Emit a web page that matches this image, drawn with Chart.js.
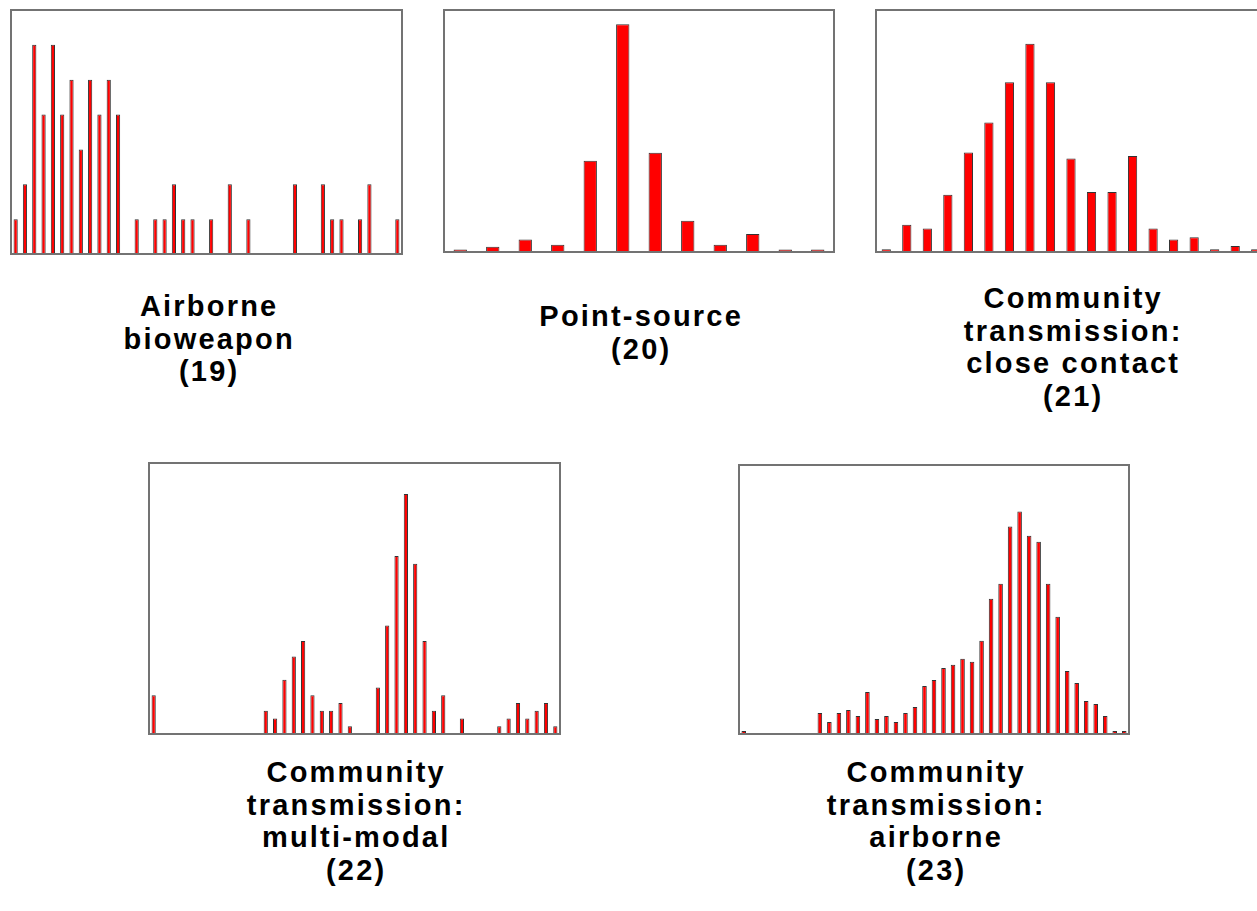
<!DOCTYPE html>
<html>
<head>
<meta charset="utf-8">
<script src="https://cdn.jsdelivr.net/npm/chart.js@4/dist/chart.umd.min.js"></script>
<style>
  html, body { margin: 0; padding: 0; background: #fff; }
  body { width: 1257px; height: 911px; position: relative; overflow: hidden; }
  .box { position: absolute; }
  .label {
    position: absolute;
    width: 300px;
    text-align: center;
    font-family: "Liberation Sans", Arial, sans-serif;
    font-weight: bold;
    font-size: 29px;
    line-height: 32.5px;
    letter-spacing: 2.2px;
    padding-left: 2.2px;
    color: #000;
  }
</style>
</head>
<body>
<div class="box" style="left:8px;top:7px;width:397px;height:250px"><canvas id="c19"></canvas></div>
<div class="box" style="left:441px;top:7px;width:396px;height:248px"><canvas id="c20"></canvas></div>
<div class="box" style="left:873px;top:7px;width:396px;height:248px"><canvas id="c21"></canvas></div>
<div class="box" style="left:146px;top:460px;width:417px;height:277px"><canvas id="c22"></canvas></div>
<div class="box" style="left:736px;top:462px;width:396px;height:275px"><canvas id="c23"></canvas></div>

<div class="label" style="left:57px;top:290px">Airborne<br>bioweapon<br>(19)</div>
<div class="label" style="left:489px;top:300px">Point-source<br>(20)</div>
<div class="label" style="left:921px;top:282px">Community<br>transmission:<br>close contact<br>(21)</div>
<div class="label" style="left:204px;top:756px">Community<br>transmission:<br>multi-modal<br>(22)</div>
<div class="label" style="left:784px;top:756px">Community<br>transmission:<br>airborne<br>(23)</div>

<script>
// Airborne bioweapon (19)
const bio19 = [1,2,6,4,6,4,5,3,5,4,5,4,0,1,0,1,1,2,1,1,0,1,0,2,0,1,0,0,0,0,2,0,0,2,1,1,0,1,2,0,0,1];
const bio19Max = 7;

// Point-source (20)
const point20 = [1, 2.2, 5.2, 3, 37.7, 94.1, 41, 12.9, 3, 7.4, 1, 1];
const point20Max = 100;

// Close contact (21)
const close21 = [1.1, 11.3, 9.7, 23.7, 41.1, 53.5, 70.1, 86.1, 70.1, 38.6, 24.8, 24.8, 39.7, 9.7, 5.2, 6.1, 1.1, 2.5, 1.1];
const close21Max = 100;

// Multi-modal (22)
const multi22 = [5,0,0,0,0,0,0,0,0,0,0,0,3,2,7,10,12,5,3,3,4,1,0,0,6,14,23,31,22,12,3,5,0,2,0,0,0,1,2,4,2,3,4,1];
const multi22Max = 35;

// Airborne community (23)
const air23 = [1,0,0,0,0,0,0,0,7,4,7,8,6,14,5,6,4,7,9,16,18,22,23,25,24,31,45,50,69,74,66,64,50,39,21,17,11,10,6,1,1];
const air23Max = 89.5;

// grey frame around the plot area
const framePlugin = {
    id: 'frame',
    afterDraw(chart) {
        const a = chart.chartArea;
        const ctx = chart.ctx;
        ctx.save();
        ctx.strokeStyle = '#737373';
        ctx.lineWidth = 2;
        ctx.strokeRect(a.left, a.top, a.right - a.left, a.bottom - a.top);
        ctx.restore();
    }
};

function makeHist(id, values, yMax, barPct) {
    const ctx = document.getElementById(id).getContext('2d');
    return new Chart(ctx, {
        type: 'bar',
        data: {
            labels: values.map((v, i) => String(i)),
            datasets: [{
                data: values.map(v => v || null),
                backgroundColor: '#ff0000',
                borderColor: '#333333',
                borderWidth: 1,
                categoryPercentage: 1,
                barPercentage: barPct
            }]
        },
        options: {
            responsive: true,
            maintainAspectRatio: false,
            animation: false,
            layout: { padding: 3 },
            plugins: {
                legend: { display: false },
                tooltip: { enabled: false }
            },
            scales: {
                x: { display: false },
                y: { display: false, min: 0, max: yMax }
            }
        },
        plugins: [framePlugin]
    });
}

makeHist('c19', bio19, bio19Max, 0.45);
makeHist('c20', point20, point20Max, 0.41);
makeHist('c21', close21, close21Max, 0.45);
makeHist('c22', multi22, multi22Max, 0.45);
makeHist('c23', air23, air23Max, 0.48);
</script>
</body>
</html>
